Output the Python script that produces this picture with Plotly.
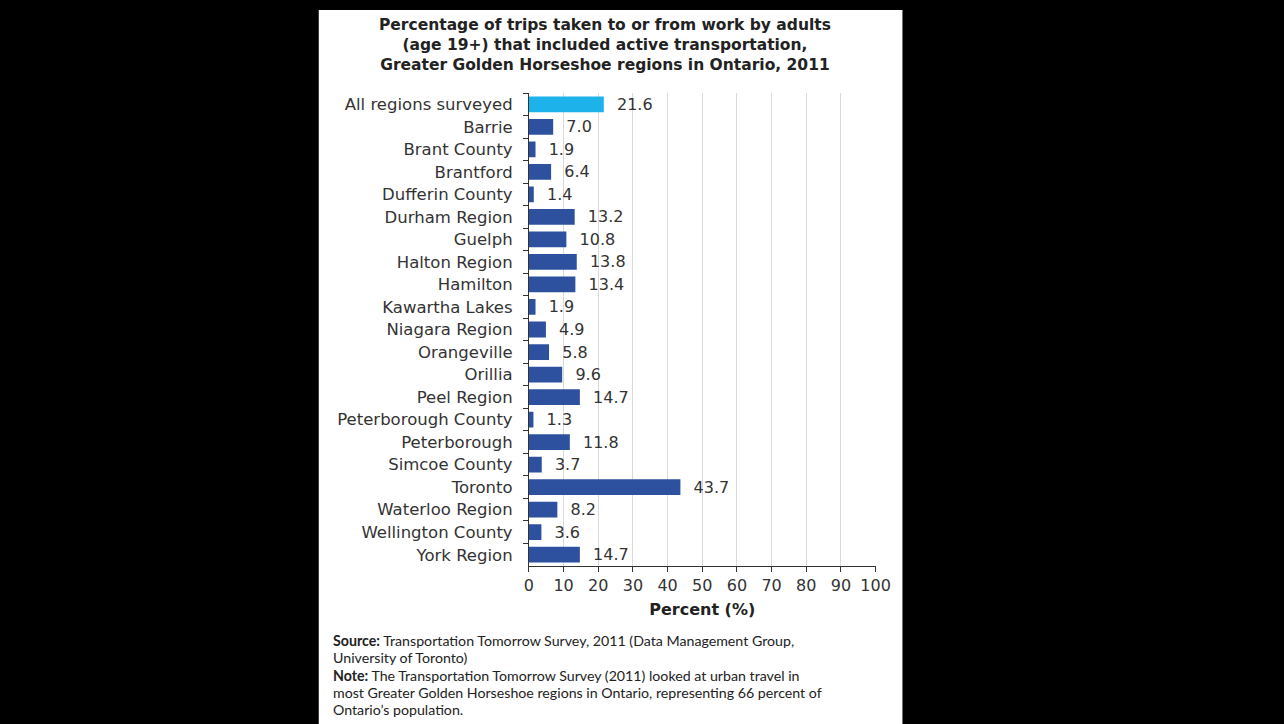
import plotly.graph_objects as go

W, H = 1284, 724
W_EFF = 1269  # measured effective horizontal width of the rendered page

categories = ["All regions surveyed", "Barrie", "Brant County", "Brantford", "Dufferin County",
              "Durham Region", "Guelph", "Halton Region", "Hamilton", "Kawartha Lakes",
              "Niagara Region", "Orangeville", "Orillia", "Peel Region", "Peterborough County",
              "Peterborough", "Simcoe County", "Toronto", "Waterloo Region", "Wellington County",
              "York Region"]
values = [21.6, 7.0, 1.9, 6.4, 1.4, 13.2, 10.8, 13.8, 13.4, 1.9, 4.9, 5.8, 9.6, 14.7, 1.3,
          11.8, 3.7, 43.7, 8.2, 3.6, 14.7]
x_ticks = [0, 10, 20, 30, 40, 50, 60, 70, 80, 90, 100]

title_lines = ["Percentage of trips taken to or from work by adults",
               "(age 19+) that included active transportation,",
               "Greater Golden Horseshoe regions in Ontario, 2011"]
note_lines = ["<b>Source:</b> Transportation Tomorrow Survey, 2011 (Data Management Group,",
              "University of Toronto)",
              "<b>Note:</b> The Transportation Tomorrow Survey (2011) looked at urban travel in",
              "most Greater Golden Horseshoe regions in Ontario, representing 66 percent of",
              "Ontario\u2019s population."]

colors = ["#1DB2EA"] + ["#2D519F"] * (len(categories) - 1)


def px_x(p):
    return (p - 2) / W_EFF


def px_y(p):
    return 1 - p / H


fig = go.Figure()
fig.add_trace(go.Bar(
    y=categories, x=values, orientation="h",
    marker=dict(color=colors, line=dict(width=0)),
    text=[f"{v:.1f}" for v in values],
    texttemplate="  %{text}",
    textposition="outside",
    constraintext="none",
    textfont=dict(family="DejaVu Sans", size=16, color="#333333"),
    cliponaxis=False,
    hoverinfo="skip",
))

fig.update_layout(
    width=W, height=H,
    margin=dict(l=0, r=0, t=0, b=0),
    paper_bgcolor="#000000",
    plot_bgcolor="#FFFFFF",
    showlegend=False,
    bargap=0.3,
    font=dict(family="DejaVu Sans", size=16, color="#333333"),
    xaxis=dict(
        domain=[px_x(528), px_x(876)],
        range=[0, 100], tickvals=x_ticks,
        showgrid=True, gridcolor="#D9D9D9", gridwidth=1,
        showline=True, linecolor="#333333", linewidth=1,
        ticks="outside", ticklen=5, tickcolor="#333333",
        tickfont=dict(family="DejaVu Sans", size=16, color="#333333"),
        zeroline=False, fixedrange=True,
        title=dict(text="<b>Percent (%)</b>", font=dict(family="DejaVu Sans", size=16, color="#222222"), standoff=9),
    ),
    yaxis=dict(
        domain=[px_y(566), px_y(93)],
        categoryorder="array", categoryarray=categories,
        autorange="reversed",
        showline=True, linecolor="#333333", linewidth=1,
        ticks="outside", ticklen=5, tickcolor="#333333", tickson="boundaries",
        tickfont=dict(family="DejaVu Sans", size=16.5, color="#333333"),
        showgrid=False, zeroline=False, fixedrange=True, ticklabelstandoff=12,
    ),
    shapes=[dict(type="rect", xref="paper", yref="paper",
                 x0=px_x(317), x1=px_x(903), y0=0, y1=px_y(10),
                 fillcolor="#FFFFFF", line=dict(width=0), layer="below")],
)

fig.add_annotation(
    xref="paper", yref="paper", x=px_x(604), y=px_y(44.5), xanchor="center", yanchor="middle",
    text="<br>".join(f"<b>{line}</b>" for line in title_lines), showarrow=False, align="center",
    font=dict(family="DejaVu Sans", size=15.5, color="#222222"),
)

note_y = [640, 657, 675, 692, 709]
for line, yy in zip(note_lines, note_y):
    fig.add_annotation(
        xref="paper", yref="paper", x=px_x(329), y=px_y(yy), xanchor="left", yanchor="middle",
        text=line, showarrow=False, align="left",
        font=dict(family="Lato", size=14.2, color="#222222"),
    )

fig.write_html("out.html")
